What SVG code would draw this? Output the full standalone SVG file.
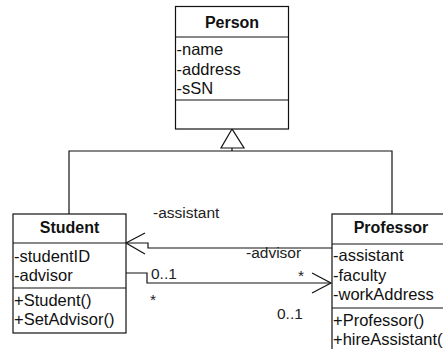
<svg xmlns="http://www.w3.org/2000/svg" width="443" height="349" viewBox="0 0 443 349">
<style>
.box{fill:#fff;stroke:#111;stroke-width:1.2}
.ln{fill:none;stroke:#111;stroke-width:1.2}
.t{font-family:"Liberation Sans",Arial,sans-serif;font-size:16.5px;fill:#111}
.h{font-family:"Liberation Sans",Arial,sans-serif;font-size:16px;font-weight:bold;fill:#111;text-anchor:middle}
.lb{font-family:"Liberation Sans",Arial,sans-serif;font-size:15.5px;fill:#222}
</style>
<rect width="443" height="349" fill="#fff"/>
<g id="connectors">
<path class="ln" d="M69,214 V151 H392 V214 M232,151 V148"/>
<polygon points="232,129 221,148 244,148" fill="#fff" stroke="#111" stroke-width="1.2"/>
<path class="ln" d="M332,248 H148 V243 H126"/>
<path class="ln" d="M145,233 L126,243 L145,254"/>
<path class="ln" d="M126,273 H147 V283 H331"/>
<path class="ln" d="M312,273 L331,283 L312,293"/>
<text class="lb" x="153" y="218">-assistant</text>
<text class="lb" x="246" y="258">-advisor</text>
<text class="lb" x="151" y="279">0..1</text>
<text class="lb" x="150" y="305">*</text>
<text class="lb" x="298" y="281">*</text>
<text class="lb" x="277" y="319">0..1</text>
</g>
<g id="person">
<rect class="box" x="175.5" y="6.5" width="113" height="122.5"/>
<path class="ln" d="M175.5,37 H288.5 M175.5,100 H288.5"/>
<text class="h" x="232" y="28">Person</text>
<text class="t" x="176.5" y="55">-name</text>
<text class="t" x="176.5" y="75">-address</text>
<text class="t" x="176.5" y="94">-sSN</text>
</g>
<g id="student">
<rect class="box" x="13" y="214" width="113" height="119"/>
<path class="ln" d="M13,243 H126 M13,288 H126"/>
<text class="h" x="69.5" y="233">Student</text>
<text class="t" x="14" y="262">-studentID</text>
<text class="t" x="14" y="281">-advisor</text>
<text class="t" x="14" y="306">+Student()</text>
<text class="t" x="14" y="325">+SetAdvisor()</text>
</g>
<g id="professor">
<rect class="box" x="332" y="214" width="120" height="150"/>
<path class="ln" d="M332,244 H452 M332,308 H452"/>
<text class="h" x="391" y="233">Professor</text>
<text class="t" x="333" y="261">-assistant</text>
<text class="t" x="333" y="281">-faculty</text>
<text class="t" x="333" y="300">-workAddress</text>
<text class="t" x="333" y="326">+Professor()</text>
<text class="t" x="333" y="345">+hireAssistant()</text>
</g>
</svg>
